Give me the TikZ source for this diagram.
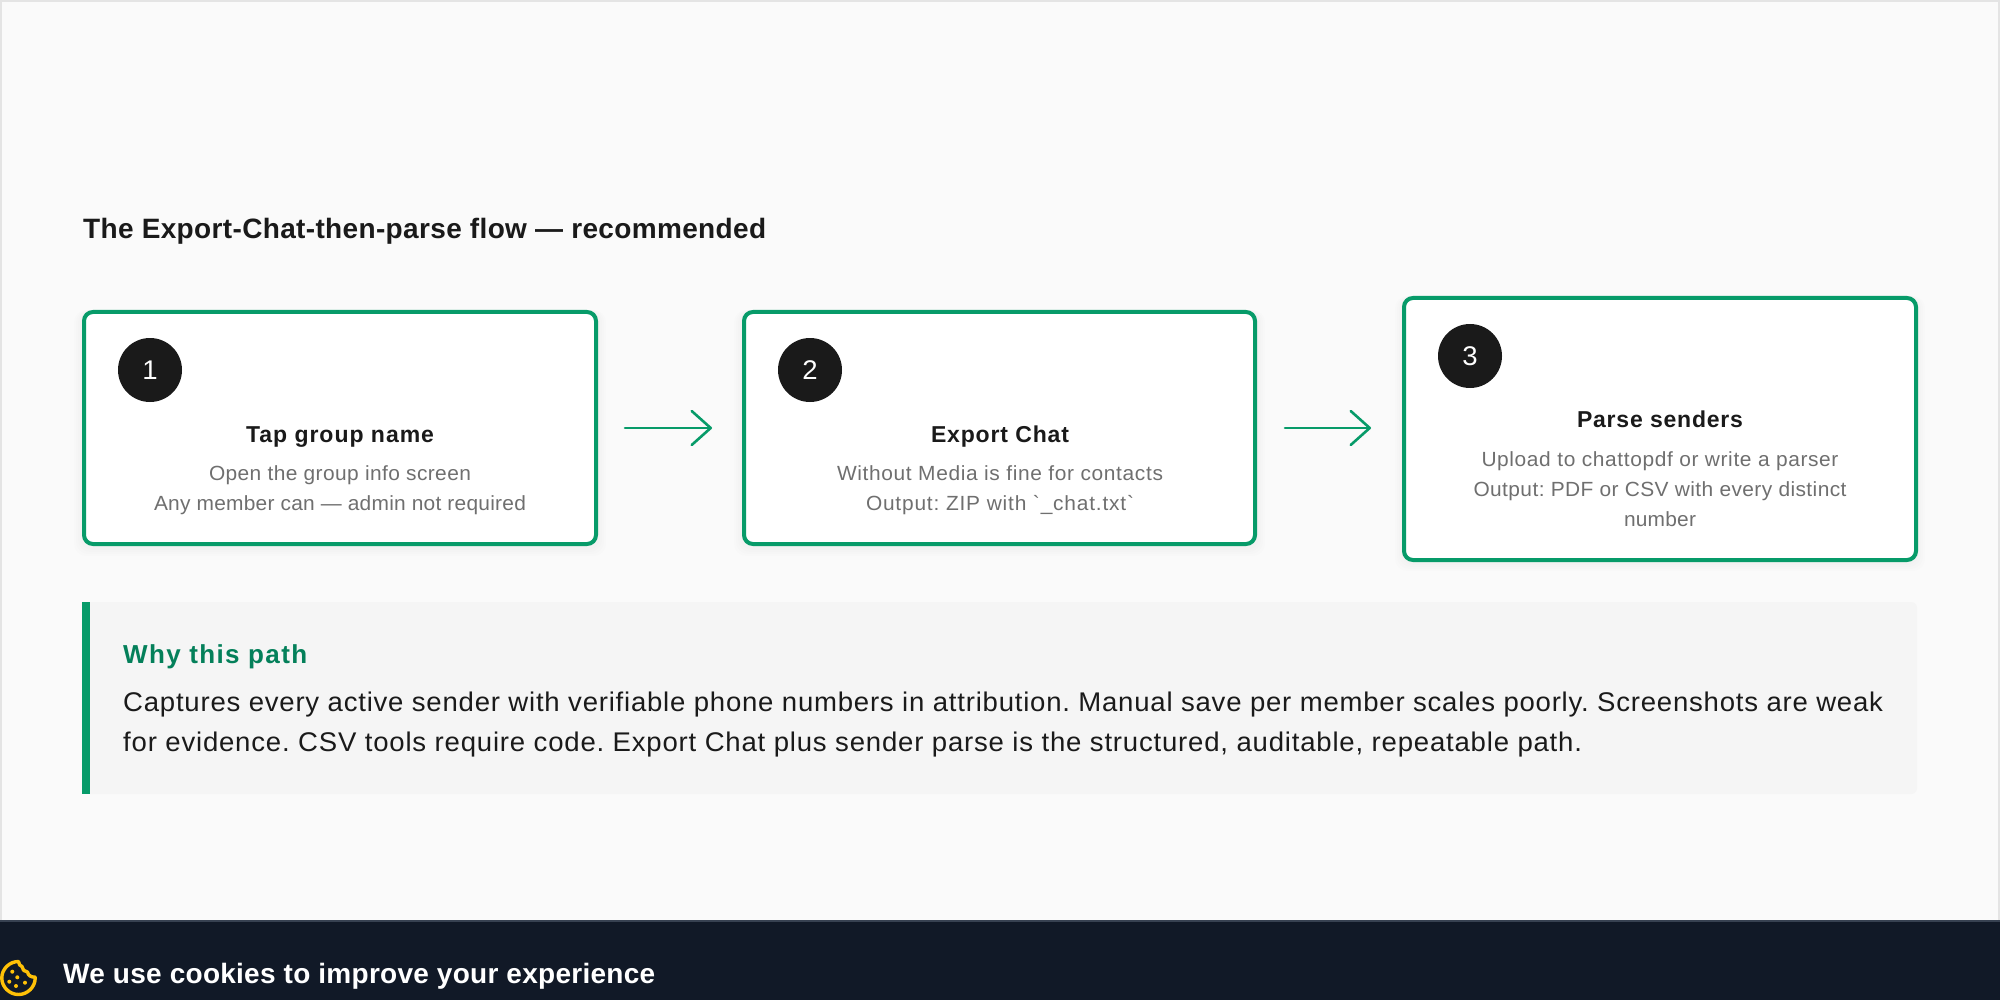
\documentclass[tikz,border=0pt]{standalone}
\usepackage{fontspec}
\usetikzlibrary{arrows.meta}
\newfontfamily\bodyf[FakeStretch=1.02]{Liberation Sans}
\newfontfamily\semif{Liberation Sans Bold}
\definecolor{pagebg}{HTML}{FAFAFA}
\definecolor{edgegray}{HTML}{E4E4E4}
\definecolor{brand}{HTML}{079B69}
\definecolor{brandtext}{HTML}{04805A}
\definecolor{ink}{HTML}{1A1A1A}
\definecolor{muted}{HTML}{6F6F6F}
\definecolor{panel}{HTML}{F5F5F5}
\definecolor{navy}{HTML}{111927}
\definecolor{navyline}{HTML}{374151}
\definecolor{cookie}{HTML}{FFC107}
\newsavebox\mboxA
\newsavebox\mboxB
% #1 target width in px, #2 text: letter-spaces the current font to reach the width
\newcommand\fitto[2]{%
  \sbox\mboxA{\addfontfeature{LetterSpace=0}#2}%
  \sbox\mboxB{\addfontfeature{LetterSpace=10}#2}%
  \pgfmathsetmacro\lsval{10*(#1-\wd\mboxA)/(\wd\mboxB-\wd\mboxA)}%
  \addfontfeature{LetterSpace=\lsval}#2}
\newcommand\fsz[1]{\fontsize{#1}{#1}\selectfont}
\frenchspacing
\tikzset{
  stepcard/.style={draw=brand,line width=4pt,fill=white,rounded corners=9pt,minimum width=512pt,inner sep=0pt},
  badge/.style={circle,fill=ink,text=white,minimum size=64pt,inner sep=0pt,font=\bodyf\fsz{27}},
  cardhead/.style={anchor=base,inner sep=0pt,text=ink,font=\semif\fsz{23}},
  cardtext/.style={anchor=base,inner sep=0pt,text=muted,font=\bodyf\fsz{20.5}},
  lefttext/.style={anchor=base west,inner sep=0pt},
  flow/.style={draw=brand,line width=2.6pt,line cap=round,line join=round,-{Straight Barb[length=19pt,width=34pt,round]}},
  softshadow/.style={fill=black,opacity=0.006,rounded corners=12pt}
}
\begin{document}
\begin{tikzpicture}[x=1pt,y=-1pt]
\useasboundingbox (0,0) rectangle (2000,1000);
\fill[pagebg] (0,0) rectangle (2000,1000);
\draw[edgegray,line width=2pt] (1,920) -- (1,1) -- (1999,1) -- (1999,920);

\node[lefttext,text=ink,font=\semif\fsz{28}] (title) at (83,239) {\fitto{683}{The Export-Chat-then-parse flow — recommended}};

% soft shadows
\foreach \g in {2,4,6,8}{
  \fill[softshadow] (82-\g,310) rectangle (598+\g,546+\g+2);
  \fill[softshadow] (742-\g,310) rectangle (1257+\g,546+\g+2);
  \fill[softshadow] (1403-\g,296) rectangle (1917+\g,561+\g+2);
}

\node[stepcard,minimum height=232pt] (b1) at (340,428) {};
\node[stepcard,minimum height=232pt,minimum width=511pt] (b2) at (999.5,428) {};
\node[stepcard,minimum height=262pt] (b3) at (1660,429) {};

\draw[flow,shorten <=27pt,shorten >=30pt] (b1.east) -- (b2.west);
\draw[flow,shorten <=28pt,shorten >=31pt] (b2.east) -- (b2.east -| b3.west);

\node[badge] (n1) at (150,370) {1};
\node[badge] (n2) at (810,370) {2};
\node[badge] (n3) at (1470,356) {3};

\node[cardhead] (h1) at (340,442) {\fitto{188}{Tap group name}};
\node[cardtext] (t1a) at (340,480) {\fitto{262}{Open the group info screen}};
\node[cardtext] (t1b) at (340,510) {\fitto{372}{Any member can — admin not required}};

\node[cardhead] (h2) at (1000,442) {\fitto{138}{Export Chat}};
\node[cardtext] (t2a) at (1000,480) {\fitto{326}{Without Media is fine for contacts}};
\node[cardtext] (t2b) at (1000,510) {\fitto{268}{Output: ZIP with `\_chat.txt`}};

\node[cardhead] (h3) at (1660,427) {\fitto{166}{Parse senders}};
\node[cardtext] (t3a) at (1660,466) {\fitto{357}{Upload to chattopdf or write a parser}};
\node[cardtext] (t3b) at (1660,496) {\fitto{373}{Output: PDF or CSV with every distinct}};
\node[cardtext] (t3c) at (1660,526) {\fitto{72}{number}};

% callout
\fill[panel,rounded corners=6pt] (84,602) rectangle (1917,794);
\fill[brand] (82,602) rectangle (90,794);
\node[lefttext,text=brandtext,font=\semif\fsz{26}] (why) at (123,663) {\fitto{184}{Why this path}};
\node[lefttext,text=ink,font=\bodyf\fsz{27}] (l1) at (123,711) {\fitto{1760}{Captures every active sender with verifiable phone numbers in attribution. Manual save per member scales poorly. Screenshots are weak}};
\node[lefttext,text=ink,font=\bodyf\fsz{27}] (l2) at (123,751) {\fitto{1459}{for evidence. CSV tools require code. Export Chat plus sender parse is the structured, auditable, repeatable path.}};

% cookie bar
\fill[navy] (0,920) rectangle (2000,1000);
\fill[navyline] (0,920) rectangle (2000,922);
\draw[cookie,line width=3.4pt,line join=round] (18.5,961.5) .. controls (9.4,961.5) and (1.8,969) .. (1.8,978) .. controls (1.8,987) and (9.4,994.5) .. (18.5,994.5) .. controls (27.6,994.5) and (35.2,987) .. (35.2,978) -- (35.2,977) .. controls (31.5,977.5) and (28,975.5) .. (27.5,972) .. controls (24.5,972) and (22,969.5) .. (22,966.5) .. controls (20.5,966) and (18.5,964.5) .. (18.5,961.5) -- cycle;
\foreach \cx/\cy in {12.3/971.7, 9.3/981.7, 17.3/977.3, 16/986, 25/982.7}{
  \fill[cookie] (\cx,\cy) circle[radius=2pt];
}
\node[lefttext,text=white,font=\semif\fsz{28}] (cookietext) at (63,983) {\fitto{592}{We use cookies to improve your experience}};
\end{tikzpicture}
\end{document}
